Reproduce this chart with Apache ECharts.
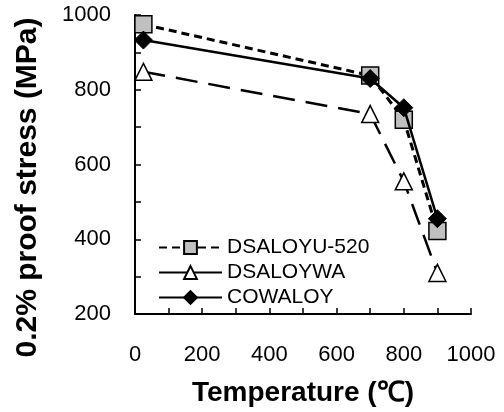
<!DOCTYPE html>
<html>
<head>
<meta charset="utf-8">
<script src="https://cdn.jsdelivr.net/npm/echarts@6/dist/echarts.min.js"></script>
<style>
  html, body { margin: 0; padding: 0; background: #fff; }
  #chart { width: 504px; height: 412px; }
</style>
</head>
<body>
<div id="chart"></div>
<script>
const temps = [25, 700, 800, 900];
const dsaloyU520 = [975, 838, 720, 422];
const dsaloyWA = [848, 735, 555, 310];
const cowaloy = [933, 830, 752, 455];

const chart = echarts.init(document.getElementById('chart'));
const font = 'Liberation Sans, Arial, sans-serif';

const pairs = vals => temps.map((t, i) => [t, vals[i]]);

const option = {
    animation: false,
    backgroundColor: '#fff',
    grid: { left: 135, right: 33, top: 15, bottom: 96 },
    legend: {
        left: 153,
        top: 230,
        orient: 'vertical',
        itemWidth: 63,
        itemHeight: 16,
        itemGap: 0,
        textStyle: { fontFamily: font, fontSize: 21, color: '#000', lineHeight: 25 },
        data: [
            { name: 'DSALOYU-520' },
            { name: 'DSALOYWA', lineStyle: { type: 'solid' } },
            { name: 'COWALOY' }
        ]
    },
    xAxis: {
        type: 'value',
        min: 0,
        max: 1000,
        interval: 100,
        name: 'Temperature (℃)',
        nameLocation: 'middle',
        nameGap: 65,
        nameTextStyle: { fontFamily: font, fontSize: 28, fontWeight: 'bold', color: '#000' },
        axisLine: { lineStyle: { color: '#000', width: 2 } },
        axisTick: { inside: true, length: 6, lineStyle: { color: '#000', width: 1.5 } },
        axisLabel: {
            margin: 30,
            fontFamily: font, fontSize: 22, color: '#000',
            formatter: v => (v % 200 === 0 ? String(v) : '')
        },
        splitLine: { show: false }
    },
    yAxis: {
        type: 'value',
        min: 200,
        max: 1000,
        interval: 100,
        name: '0.2% proof stress (MPa)',
        nameLocation: 'middle',
        nameGap: 92,
        nameTextStyle: {
            fontFamily: font, fontSize: 30, fontWeight: 'bold', color: '#000',
            padding: [0, 46, 0, 0]
        },
        axisLine: { show: true, lineStyle: { color: '#000', width: 2 } },
        axisTick: { show: true, inside: true, length: 6, lineStyle: { color: '#000', width: 1.5 } },
        axisLabel: {
            margin: 24,
            fontFamily: font, fontSize: 22, color: '#000',
            formatter: v => (v % 200 === 0 ? String(v) : '')
        },
        splitLine: { show: false }
    },
    series: [
        {
            name: 'DSALOYU-520',
            type: 'line',
            data: pairs(dsaloyU520),
            symbol: 'rect',
            symbolSize: 17,
            itemStyle: { color: '#c0c0c0', borderColor: '#000', borderWidth: 1.5 },
            lineStyle: { color: '#000', width: 3, type: [8, 5] },
            z: 2
        },
        {
            name: 'DSALOYWA',
            type: 'line',
            data: pairs(dsaloyWA),
            symbol: 'triangle',
            symbolSize: 17,
            itemStyle: { color: '#fff', borderColor: '#000', borderWidth: 1.5 },
            lineStyle: { color: '#000', width: 2.5, type: [22, 11] },
            z: 2
        },
        {
            name: 'COWALOY',
            type: 'line',
            data: pairs(cowaloy),
            symbol: 'diamond',
            symbolSize: 18,
            itemStyle: { color: '#000', borderColor: '#000', borderWidth: 1 },
            lineStyle: { color: '#000', width: 2.5 },
            z: 3
        }
    ]
};

chart.setOption(option);
</script>
</body>
</html>
